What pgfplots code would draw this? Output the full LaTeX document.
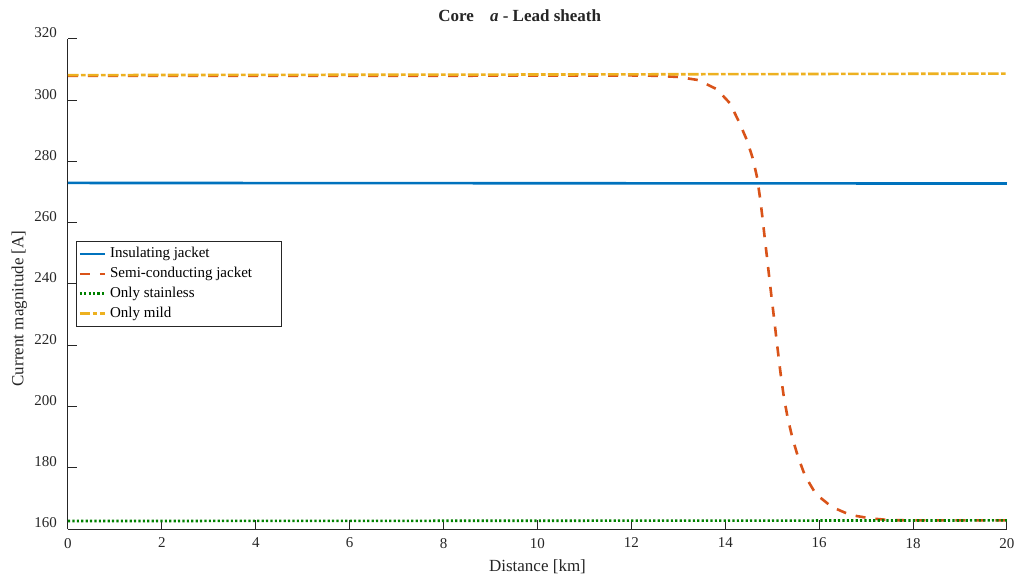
\documentclass[border=0pt]{standalone}
\usepackage{fontspec}
\setmainfont{Liberation Serif}
\usepackage{pgfplots}
\pgfplotsset{compat=1.18}

\definecolor{mblue}{rgb}{0,0.447,0.741}
\definecolor{morange}{rgb}{0.85,0.325,0.098}
\definecolor{mgreen}{rgb}{0,0.5,0}
\definecolor{myellow}{rgb}{0.929,0.694,0.125}
\definecolor{axgray}{rgb}{0.15,0.15,0.15}

\begin{document}
\begin{tikzpicture}
\begin{axis}[
  scale only axis,
  width=469.5pt, height=245pt,
  xmin=0, xmax=20, ymin=160, ymax=320,
  xtick={0,2,...,20}, ytick={160,180,...,320},
  axis x line=bottom, axis y line=left,
  axis line style={-, axgray, line width=0.5pt},
  tick style={axgray, line width=0.5pt},
  tick align=inside, major tick length=4.5pt,
  /pgf/number format/assume math mode=true,
  ticklabel style={font=\fontsize{7.5}{9}\selectfont, text=axgray},
  xticklabel style={yshift=-1pt},
  yticklabel style={xshift=-2pt, yshift=3pt},
  xlabel={Distance [km]},
  ylabel={Current magnitude [A]},
  label style={font=\fontsize{8.5}{10}\selectfont, text=axgray},
  xlabel style={at={(rel axis cs:0.5,0)}, anchor=north, yshift=-12pt},
  ylabel style={at={(rel axis cs:0,0.45)}, anchor=south, rotate=0, yshift=17pt},
  legend style={at={(rel axis cs:0.0085,0.588)}, anchor=north west,
    draw=axgray, line width=0.5pt, font=\fontsize{7.5}{9}\selectfont,
    inner sep=1pt, row sep=-0.8pt},
  legend cell align=left,
  legend image code/.code={\draw[#1] (0pt,0pt) -- (12.5pt,0pt);},
  clip=false,
]
% Insulating jacket
\addplot[mblue, line width=1.3pt] coordinates {(0,273.0) (10,272.9) (20,272.8)};
\addlegendentry{Insulating jacket}
% Semi-conducting jacket
\addplot[morange, line width=1.3pt, dash pattern=on 5pt off 5pt] coordinates {
 (0,308.0) (4,308.0) (8,308.0) (12,308.1) (12.5,308.0) (13.0,307.6) (13.42,306.6)
 (13.82,303.6) (14.10,299.0) (14.29,293.0) (14.46,287.0) (14.59,280.8) (14.68,274.6)
 (14.74,268.1) (14.79,261.9) (14.84,255.0) (14.89,248.5) (14.94,241.6) (14.99,235.1)
 (15.04,228.6) (15.09,222.0) (15.14,215.5) (15.19,209.3) (15.25,202.8) (15.33,196.2)
 (15.43,189.7) (15.55,183.5) (15.70,177.3) (15.93,171.4) (16.27,167.2) (16.66,164.6)
 (17.08,163.5) (17.5,162.9) (18,162.8) (19,162.8) (20,162.8)};
\addlegendentry{\makebox[82.5pt][l]{Semi-conducting jacket}}
% Only stainless
\addplot[mgreen, line width=1.3pt, dash pattern=on 1.1pt off 1.1pt] coordinates {(0,162.6) (10,162.7) (20,162.8)};
\addlegendentry{Only stainless}
% Only mild
\addplot[myellow, line width=1.3pt, dash pattern=on 5.3pt off 1.2pt on 2.3pt off 1.2pt] coordinates {(0,308.2) (10,308.4) (20,308.7)};
\addlegendentry{Only mild}

\node[font=\bfseries\fontsize{8.5}{10}\selectfont, text=axgray] at (rel axis cs:0.481,1.047)
  {Core\hspace{6pt} \textit{a} - Lead sheath};
\end{axis}
\pgfresetboundingbox
\path[use as bounding box] (-34pt,-25pt) rectangle (473pt,264.5pt);
\end{tikzpicture}
\end{document}
